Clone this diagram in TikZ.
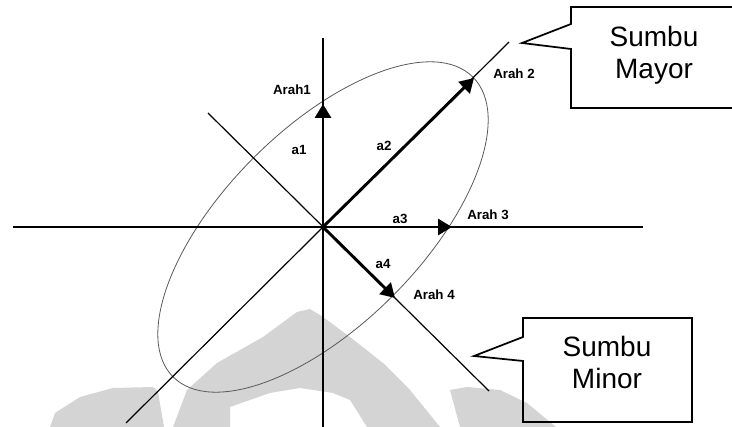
\documentclass[tikz,border=0pt]{standalone}
\usepackage{fontspec}
\setmainfont{Liberation Sans}
\usetikzlibrary{arrows.meta}

\begin{document}
\begin{tikzpicture}[x=0.75pt, y=-0.75pt,
    axisline/.style={black, line width=1.3pt},
    diagline/.style={black, line width=0.9pt},
    orbit/.style={black!65, line width=0.6pt},
    dirarrow/.style={black, line width=2.2pt, -{Triangle[length=10.5pt, width=12pt]}},
    dirlabel/.style={inner sep=0pt, font=\fontsize{10}{12}\selectfont\bfseries},
    calloutbox/.style={draw=black, line width=1.3pt, line join=miter},
    callouttext/.style={align=center, inner sep=0pt, font=\fontsize{21}{24}\selectfont},
    watermark/.style={fill=gray!34, draw=none}
]
\useasboundingbox (0,0) rectangle (732,427);
\clip (0,0) rectangle (732,427);

% faint watermark behind the figure
\fill[watermark] (50,427) -- (55,413) -- (80,397) -- (113,388) -- (153,387)
  -- (158,392) -- (164,427) -- cycle;
\fill[watermark] (173,427) -- (187,390) -- (217,363) -- (263,337) -- (297,312)
  -- (310,309) -- (323,317) -- (350,337) -- (383,363) -- (410,390) -- (440,427)
  -- (367,427) -- (350,400) -- (333,393) -- (300,388) -- (270,393) -- (230,407)
  -- (230,427) -- cycle;
\fill[watermark] (450,390) -- (467,387) -- (500,390) -- (527,403) -- (556,427)
  -- (460,427) -- cycle;

\coordinate (O) at (323,227);
\coordinate (hleft) at (13,227);
\coordinate (hright) at (643,227);
\coordinate (vtop) at (323,38);
\coordinate (vbottom) at (323,430);
\coordinate (majlow) at (126,423);
\coordinate (majhigh) at (509,42);
\coordinate (minhigh) at (208,113);
\coordinate (minlow) at (489,391);

\coordinate (tip1) at (323,104);
\coordinate (tip2) at (474,78);
\coordinate (tip3) at (452,227);
\coordinate (tip4) at (395,298);

\draw[orbit, rotate around={45:(O)}] (O) ellipse [x radius=212, y radius=98];

\draw[axisline] (hleft) -- (hright);
\draw[axisline] (vtop) -- (vbottom);
\draw[diagline] (majlow) -- (majhigh);
\draw[diagline] (minhigh) -- (minlow);

\draw[dirarrow] (O) -- (tip1);
\draw[dirarrow] (O) -- (tip2);
\draw[dirarrow] (O) -- (tip3);
\draw[dirarrow] (O) -- (tip4);

\node[dirlabel] (arah1) at (292,90) {Arah1};
\node[dirlabel] (arah2) at (514,74) {Arah 2};
\node[dirlabel] (arah3) at (488,215) {Arah 3};
\node[dirlabel] (arah4) at (434,295) {Arah 4};
\node[dirlabel] (la1) at (299,150) {a1};
\node[dirlabel] (la2) at (384,146) {a2};
\node[dirlabel] (la3) at (400,219) {a3};
\node[dirlabel] (la4) at (383,264) {a4};

% callouts
\coordinate (mayortip) at (522,43);
\coordinate (minortip) at (474,356);
\draw[calloutbox] (571,24) -- (mayortip) -- (571,49) -- (571,108) -- (740,108)
  -- (740,7) -- (571,7) -- cycle;
\draw[calloutbox] (523,337) -- (minortip) -- (523,361) -- (523,422) -- (692,422)
  -- (692,318) -- (523,318) -- cycle;
\node[callouttext] (mayor) at (654,55) {Sumbu\\Mayor};
\node[callouttext] (minor) at (607,362) {Sumbu\\Minor};

\end{tikzpicture}
\end{document}
